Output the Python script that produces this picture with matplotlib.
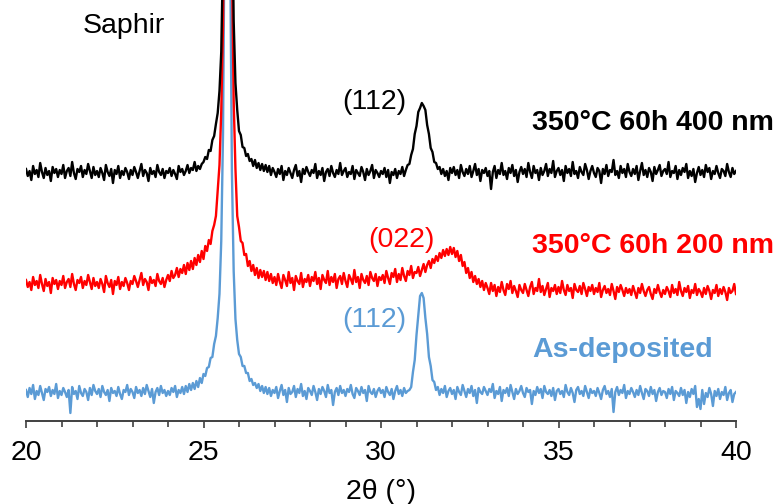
import numpy as np
import matplotlib
matplotlib.use("Agg")
from matplotlib import pyplot as plt
from matplotlib.ticker import MultipleLocator

plt.rcParams['font.family'] = ['Liberation Sans', 'DejaVu Sans']

# Intensités (unités arbitraires, décalées), pas de 0.05° de 20 à 40°
black_400nm = [
    252, 245, 250, 241, 255, 247, 251, 244, 258, 249, 243, 253, 246, 250, 240, 254, 248, 252, 244, 251,
    247, 256, 243, 250, 253, 245, 259, 248, 242, 252, 249, 255, 244, 251, 247, 257, 250, 243, 254, 246,
    250, 244, 253, 248, 241, 256, 249, 245, 252, 238, 251, 247, 255, 243, 250, 246, 253, 249, 242, 251,
    246, 254, 249, 243, 250, 257, 245, 251, 248, 240, 253, 247, 250, 244, 256, 249, 246, 252, 243, 250,
    248, 253, 245, 251, 247, 242, 255, 249, 252, 246, 250, 256, 248, 253, 251, 259, 250, 255, 252, 257,
    259, 264, 262, 271, 270, 281, 285, 297, 308, 330, 369, 469, 700, 1150, 1350, 950, 550, 400, 338, 311,
    290, 286, 274, 273, 265, 267, 260, 262, 255, 261, 253, 258, 251, 257, 250, 256, 249, 255, 246, 253,
    249, 244, 252, 247, 255, 241, 250, 246, 253, 248, 243, 251, 256, 245, 250, 239, 252, 247, 254, 249,
    245, 251, 248, 257, 243, 250, 246, 253, 240, 249, 252, 245, 255, 248, 244, 251, 247, 258, 246, 250,
    253, 244, 249, 247, 255, 242, 251, 248, 245, 254, 249, 241, 252, 246, 250, 256, 243, 251, 248, 244,
    250, 247, 253, 244, 251, 238, 249, 246, 252, 243, 250, 247, 254, 245, 251, 256, 257, 266, 272, 287,
    295, 309, 313, 318, 315, 311, 296, 287, 273, 269, 259, 258, 252, 254, 247, 252, 245, 250, 241, 253,
    248, 254, 246, 251, 243, 256, 249, 245, 252, 247, 255, 244, 250, 257, 246, 252, 240, 251, 248, 253,
    245, 250, 232, 249, 255, 243, 251, 247, 258, 246, 250, 242, 253, 248, 256, 245, 251, 239, 249, 254,
    247, 252, 244, 258, 249, 243, 255, 248, 251, 241, 253, 246, 250, 257, 245, 252, 248, 260, 244, 250,
    253, 246, 251, 240, 255, 248, 252, 245, 259, 247, 250, 243, 254, 249, 246, 257, 251, 242, 250, 255,
    248, 244, 253, 250, 238, 252, 247, 256, 245, 251, 249, 261, 246, 250, 243, 255, 248, 252, 244, 257,
    249, 245, 252, 247, 255, 241, 250, 258, 246, 251, 244, 253, 249, 240, 254, 247, 251, 256, 245, 250,
    252, 247, 259, 244, 250, 248, 255, 242, 251, 246, 253, 249, 257, 243, 250, 245, 252, 239, 248, 254,
    246, 251, 244, 256, 249, 253, 242, 250, 247, 255, 248, 243, 252, 250, 245, 257, 249, 244, 253, 247,
    250,
]

red_200nm = [
    141, 134, 139, 131, 144, 136, 140, 133, 146, 137, 130, 142, 135, 139, 128, 143, 137, 141, 132, 140,
    136, 145, 133, 139, 142, 134, 147, 137, 131, 141, 138, 144, 133, 140, 136, 146, 139, 132, 143, 135,
    139, 133, 142, 137, 129, 145, 138, 134, 141, 127, 140, 136, 144, 132, 139, 135, 143, 138, 131, 140,
    137, 145, 140, 134, 141, 148, 136, 142, 139, 131, 144, 138, 141, 135, 147, 140, 137, 143, 134, 141,
    146, 140, 150, 143, 146, 153, 144, 152, 148, 156, 147, 158, 151, 160, 152, 163, 156, 166, 159, 170,
    162, 175, 170, 181, 177, 190, 196, 205, 231, 256, 310, 395, 590, 940, 1040, 740, 460, 320, 252, 205,
    194, 180, 178, 166, 167, 155, 160, 150, 156, 146, 153, 143, 151, 144, 150, 141, 149, 140, 147, 138,
    144, 136, 147, 139, 133, 146, 141, 135, 149, 138, 143, 131, 145, 140, 137, 148, 134, 142, 139, 146,
    135, 144, 140, 149, 137, 143, 132, 146, 141, 138, 150, 136, 144, 139, 147, 133, 142, 145, 137, 148,
    140, 134, 146, 142, 137, 151, 139, 144, 133, 147, 141, 138, 145, 136, 149, 143, 140, 147, 135, 144,
    141, 146, 138, 150, 143, 137, 148, 144, 152, 139, 147, 141, 153, 145, 140, 150, 146, 155, 143, 149,
    148, 154, 145, 151, 157, 149, 156, 160, 153, 162, 158, 165, 160, 168, 163, 171, 165, 172, 166, 174,
    167, 173, 164, 170, 160, 166, 155, 159, 148, 153, 143, 149, 139, 145, 137, 142, 134, 140, 131, 138,
    133, 127, 138, 130, 136, 125, 134, 129, 139, 131, 126, 137, 132, 140, 128, 135, 130, 124, 136, 131,
    128, 137, 131, 125, 134, 139, 127, 133, 130, 142, 129, 135, 126, 132, 138, 124, 133, 130, 136, 127,
    134, 128, 140, 131, 126, 136, 130, 133, 123, 137, 131, 129, 135, 127, 138, 132, 125, 134, 130, 136,
    127, 133, 129, 138, 124, 131, 135, 128, 132, 126, 137, 130, 122, 134, 129, 136, 131, 125, 133, 128,
    132, 126, 135, 129, 123, 133, 128, 137, 130, 125, 131, 134, 127, 122, 132, 128, 136, 129, 124, 131,
    127, 134, 130, 124, 136, 128, 132, 126, 139, 130, 125, 133, 129, 135, 123, 131, 128, 137, 126, 132,
    129, 124, 133, 127, 135, 130, 122, 131, 128, 136, 125, 132, 127, 134, 129, 121, 133, 128, 130, 137,
    127,
]

blue_asdep = [
    31, 24, 33, 27, 36, 22, 30, 26, 35, 28, 21, 32, 29, 34, 25, 31, 27, 37, 23, 30,
    26, 33, 29, 24, 31, 8, 34, 27, 30, 22, 35, 28, 25, 32, 29, 21, 33, 26, 36, 30,
    27, 32, 24, 35, 29, 26, 31, 20, 33, 28, 30, 25, 34, 27, 22, 31, 29, 36, 26, 32,
    29, 23, 34, 28, 31, 25, 33, 27, 36, 30, 24, 32, 18, 29, 33, 26, 35, 28, 31, 25,
    30, 26, 33, 29, 35, 24, 31, 28, 34, 27, 35, 29, 37, 31, 38, 32, 40, 34, 43, 38,
    47, 45, 53, 54, 63, 64, 77, 85, 103, 127, 180, 288, 530, 930, 930, 480, 250, 150, 102, 81,
    67, 64, 55, 55, 48, 48, 40, 42, 36, 38, 33, 37, 30, 35, 28, 34, 27, 33, 25, 31,
    28, 34, 23, 30, 36, 26, 31, 19, 33, 27, 29, 35, 24, 32, 28, 37, 25, 30, 22, 33,
    30, 26, 35, 29, 21, 32, 27, 34, 30, 24, 36, 28, 31, 16, 29, 33, 26, 35, 28, 31,
    25, 32, 29, 36, 27, 23, 33, 30, 26, 34, 28, 31, 20, 35, 29, 27, 32, 24, 30, 33,
    28, 31, 24, 34, 29, 26, 32, 22, 30, 35, 27, 31, 25, 33, 28, 30, 31, 34, 49, 61,
    86, 105, 125, 128, 123, 103, 87, 64, 55, 41, 39, 31, 34, 26, 32, 28, 35, 24, 30, 33,
    27, 31, 22, 34, 29, 26, 36, 30, 24, 32, 28, 35, 25, 31, 18, 33, 29, 27, 34, 30,
    26, 32, 29, 37, 23, 30, 27, 34, 20, 31, 28, 33, 25, 36, 29, 22, 32, 27, 30, 35,
    28, 24, 33, 29, 31, 17, 30, 26, 34, 28, 32, 23, 35, 29, 27, 31, 25, 33, 21, 30,
    32, 27, 30, 24, 36, 29, 26, 33, 28, 19, 31, 34, 27, 30, 25, 35, 29, 23, 32, 28,
    30, 25, 33, 28, 22, 31, 35, 27, 30, 24, 32, 9, 29, 34, 26, 31, 28, 36, 23, 30,
    27, 33, 29, 24, 31, 26, 35, 28, 22, 32, 30, 25, 34, 27, 31, 20, 29, 33, 26, 30,
    29, 23, 32, 27, 34, 21, 30, 28, 25, 33, 26, 31, 18, 29, 24, 32, 27, 35, 14, 22,
    12, 31, 17, 28, 24, 33, 27, 15, 30, 25, 32, 22, 29, 26, 34, 21, 28, 31, 19, 27,
    29,
]

series = [
    (blue_asdep, '#5B9BD5'),
    (red_200nm, '#FF0000'),
    (black_400nm, '#000000'),
]

fig = plt.figure(figsize=(7.74, 5.04), dpi=100)
ax = fig.add_axes([26 / 774, 83 / 504, 710 / 774, 421 / 504])

for values, color in series:
    two_theta = np.linspace(20, 40, len(values))
    ax.plot(two_theta, values, color=color, lw=1.7)

ax.set_xlim(20, 40)
ax.set_ylim(0, 421)
ax.xaxis.set_major_locator(MultipleLocator(5))
ax.xaxis.set_minor_locator(MultipleLocator(1))
for side in ['left', 'top', 'right']:
    ax.spines[side].set_visible(False)
ax.spines['bottom'].set_color('#404040')
ax.spines['bottom'].set_linewidth(1.4)
ax.set_yticks([])
ax.tick_params(axis='x', which='major', direction='out', length=5, width=1.2,
               color='#404040', pad=9, labelsize=20.5)
ax.tick_params(axis='x', which='minor', direction='out', length=4, width=1.2,
               color='#404040')
ax.set_xlabel('2θ (°)', fontsize=20.5, labelpad=9)

# Annotations
fs = 20.5
ax.text(21.6, 388, 'Saphir', fontsize=fs, ha='left', va='baseline')
ax.text(28.9, 312, '(112)', fontsize=fs, ha='left', va='baseline', color='#000000')
ax.text(29.63, 174, '(022)', fontsize=fs, ha='left', va='baseline', color='#FF0000')
ax.text(28.9, 94, '(112)', fontsize=fs, ha='left', va='baseline', color='#5B9BD5')
ax.text(34.25, 291, '350°C 60h 400 nm', fontsize=fs, fontweight='bold',
        ha='left', va='baseline', color='#000000', clip_on=False)
ax.text(34.25, 168, '350°C 60h 200 nm', fontsize=fs, fontweight='bold',
        ha='left', va='baseline', color='#FF0000', clip_on=False)
ax.text(34.25, 64, 'As-deposited', fontsize=fs, fontweight='bold',
        ha='left', va='baseline', color='#5B9BD5', clip_on=False)

fig.savefig('out.png', dpi=100)
